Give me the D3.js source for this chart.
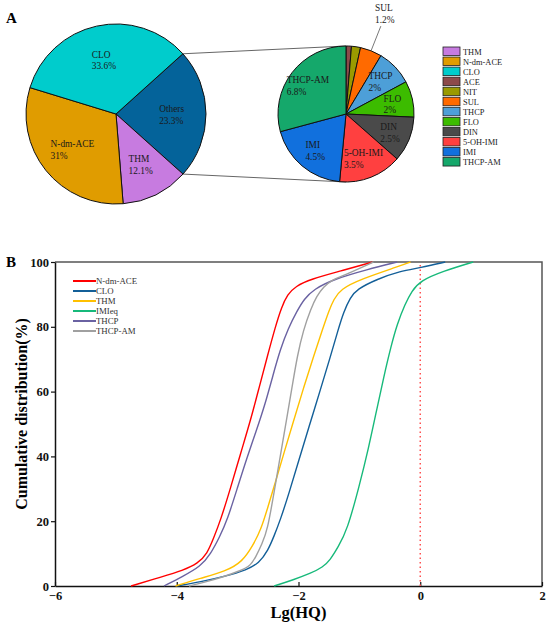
<!DOCTYPE html>
<html>
<head>
<meta charset="utf-8">
<script src="https://cdn.jsdelivr.net/npm/d3@7"></script>
<style>
  body { margin: 0; background: #fff; }
  text { font-family: "Liberation Serif", "Times New Roman", serif; }
</style>
</head>
<body>
<div id="chart"></div>
<script>
// panel A: main pie
var mainNames = ["Others", "THM", "N-dm-ACE", "CLO"];
var mainValues = [23.3, 12.1, 31, 33.6];
var mainColors = ["#04639a", "#c77be0", "#e09c00", "#00cccc"];

// panel A: breakdown of "Others"
var subNames = ["ACE", "NIT", "SUL", "THCP", "FLO", "DIN", "5-OH-IMI", "IMI", "THCP-AM"];
var subValues = [0.3, 0.5, 1.2, 2, 2, 2.5, 3.5, 4.5, 6.8];
var subColors = ["#8c4a4a", "#9a9a00", "#ff6a00", "#4d9fd8", "#3cbc00", "#4a4a4a", "#ff4040", "#1170dd", "#15a86b"];

var legendNames = ["THM", "N-dm-ACE", "CLO", "ACE", "NIT", "SUL", "THCP", "FLO", "DIN", "5-OH-IMI", "IMI", "THCP-AM"];

// panel B: cumulative distributions of Lg(HQ)
var cdfNames = ["N-dm-ACE", "CLO", "THM", "IMIeq", "THCP", "THCP-AM"];
var cdfColors = ["#ff0000", "#135f98", "#ffc000", "#17b97a", "#6a62a2", "#a0a0a0"];
var ndmAce = [[-4.75,0],[-4.25,2.8],[-3.9,4.8],[-3.65,7],[-3.5,10],[-3.4,14.5],[-3.28,20.3],[-3.12,30],[-2.95,41],[-2.79,51],[-2.65,61],[-2.51,71],[-2.38,80],[-2.28,86],[-2.18,90],[-2.05,92.5],[-1.8,94.7],[-1.31,97.2],[-0.78,100]];
var clo = [[-4.0,0],[-3.61,1.3],[-3.2,3],[-2.85,5],[-2.65,7],[-2.5,11],[-2.4,15.5],[-2.3,20.3],[-2.15,29],[-2.0,38.5],[-1.83,49],[-1.65,60],[-1.48,70.5],[-1.35,79],[-1.26,84.5],[-1.15,89],[-1.04,91.6],[-0.71,94.7],[-0.33,97.2],[0,98.2],[0.41,100]];
var thm = [[-4.02,0],[-3.61,2.4],[-3.2,4.5],[-2.92,7.5],[-2.75,12.5],[-2.62,17.2],[-2.5,24.5],[-2.38,32],[-2.24,41],[-2.08,51],[-1.92,61],[-1.75,71],[-1.6,79.5],[-1.5,85],[-1.42,88.5],[-1.31,91.6],[-0.98,94.7],[-0.33,98.8],[-0.16,100]];
var imiEq = [[-2.4,0],[-2.1,1.8],[-1.8,3.9],[-1.6,5.8],[-1.48,8],[-1.35,12],[-1.2,17.2],[-1.0,31],[-0.85,42.5],[-0.72,54],[-0.6,64.5],[-0.48,74],[-0.38,80.8],[-0.25,87],[-0.14,91],[0,94.2],[0.38,97.2],[0.87,100]];
var thcp = [[-4.21,0],[-3.9,3],[-3.61,6],[-3.44,10],[-3.3,15],[-3.17,20.3],[-3.0,30.5],[-2.84,40],[-2.7,47.5],[-2.55,56],[-2.42,65],[-2.3,73],[-2.17,79.5],[-2.02,85],[-1.91,88.5],[-1.75,91.6],[-1.42,94.7],[-0.87,97.7],[-0.38,100]];
var thcpAm = [[-3.8,0],[-3.61,0.8],[-3.2,3],[-2.95,4.8],[-2.8,6],[-2.7,9],[-2.6,13],[-2.51,17.2],[-2.4,29],[-2.3,40],[-2.2,51],[-2.1,62],[-2.02,71],[-1.92,79],[-1.8,85.4],[-1.7,89.5],[-1.59,92.3],[-1.45,94.5],[-1.26,95.8],[-0.77,100]];
var cdfSeries = [ndmAce, clo, thm, imiEq, thcp, thcpAm];

var xTicks = [-6, -4, -2, 0, 2];
var yTicks = [0, 20, 40, 60, 80, 100];

function init() {
    var svg = d3.select("#chart")
        .append("svg")
        .attr("width", 550)
        .attr("height", 624);

    var deg = Math.PI / 180;

    // ---------- A ----------
    svg.append("text").attr("x", 6).attr("y", 23)
        .style("font-size", "15px").style("font-weight", "bold").text("A");

    var c1 = { x: 116, y: 114 }, r1 = 90;
    var c2 = { x: 346, y: 114 }, r2 = 68;

    var pie1 = d3.pie().sort(null)
        .startAngle(48 * deg).endAngle(408 * deg);
    var arcs1 = pie1(mainValues);
    var arc1 = d3.arc().innerRadius(0).outerRadius(r1);
    var lab1 = d3.arc().innerRadius(r1 * 0.62).outerRadius(r1 * 0.62);

    // connectors from "Others" slice to the second pie
    var oth = arcs1[0];
    var linkG = svg.append("g");
    [[oth.startAngle, -1], [oth.endAngle, 1]].forEach(function (p) {
        linkG.append("line")
            .attr("x1", c1.x + r1 * Math.sin(p[0]))
            .attr("y1", c1.y - r1 * Math.cos(p[0]))
            .attr("x2", c2.x)
            .attr("y2", c2.y + p[1] * r2)
            .style("stroke", "#666")
            .style("stroke-width", 1);
    });

    var g1 = svg.append("g").attr("transform", "translate(" + c1.x + "," + c1.y + ")");
    g1.selectAll("path").data(arcs1).enter().append("path")
        .attr("d", arc1)
        .style("fill", function (d, i) { return mainColors[i]; })
        .style("stroke", "#111").style("stroke-width", 1);

    function blockLabel(g, pos, lines, size) {
        var t = g.append("text")
            .attr("transform", "translate(" + pos[0] + "," + pos[1] + ")")
            .style("font-size", size + "px").style("fill", "#1a1a1a");
        lines.forEach(function (s, k) {
            t.append("tspan").attr("x", 0).attr("dy", k === 0 ? "-0.2em" : "1.25em").text(s);
        });
        var w = t.node().getBBox().width;
        t.selectAll("tspan").attr("x", -w / 2);
    }

    arcs1.forEach(function (d, i) {
        blockLabel(g1, lab1.centroid(d), [mainNames[i], mainValues[i] + "%"], 9.4);
    });

    var pie2 = d3.pie().sort(null);
    var arcs2 = pie2(subValues);
    var arc2 = d3.arc().innerRadius(0).outerRadius(r2);
    var lab2 = d3.arc().innerRadius(r2 * 0.7).outerRadius(r2 * 0.7);

    var g2 = svg.append("g").attr("transform", "translate(" + c2.x + "," + c2.y + ")");
    g2.selectAll("path").data(arcs2).enter().append("path")
        .attr("d", arc2)
        .style("fill", function (d, i) { return subColors[i]; })
        .style("stroke", "#111").style("stroke-width", 1);

    arcs2.forEach(function (d, i) {
        var v = subValues[i];
        if (v >= 2) {
            blockLabel(g2, lab2.centroid(d), [subNames[i], v + "%"], 9.4);
        } else if (v >= 1) {
            var a = (d.startAngle + d.endAngle) / 2;
            g2.append("line")
                .attr("x1", r2 * Math.sin(a)).attr("y1", -r2 * Math.cos(a))
                .attr("x2", r2 * 1.39 * Math.sin(a)).attr("y2", -r2 * 1.39 * Math.cos(a))
                .style("stroke", "#555").style("stroke-width", 0.8);
            blockLabel(g2, [r2 * 1.55 * Math.sin(a), -r2 * 1.6 * Math.cos(a)], [subNames[i], v + "%"], 9.4);
        }
    });

    // legend
    var allColors = {};
    mainNames.forEach(function (n, i) { allColors[n] = mainColors[i]; });
    subNames.forEach(function (n, i) { allColors[n] = subColors[i]; });
    var leg = svg.append("g").attr("transform", "translate(443,47)");
    legendNames.forEach(function (n, i) {
        leg.append("rect").attr("x", 0).attr("y", i * 10.05)
            .attr("width", 17).attr("height", 8.5)
            .style("fill", allColors[n]).style("stroke", "#222").style("stroke-width", 0.8);
        leg.append("text").attr("x", 20).attr("y", i * 10.05 + 7.6)
            .style("font-size", "8.4px").style("fill", "#222").text(n);
    });

    // ---------- B ----------
    var margin = { top: 262, left: 55 },
        width = 487,
        height = 324;

    svg.append("text").attr("x", 6).attr("y", 267)
        .style("font-size", "15px").style("font-weight", "bold").text("B");

    var SVG = svg.append("g")
        .attr("transform", "translate(" + margin.left + "," + margin.top + ")");

    var x = d3.scaleLinear().domain([-6, 2]).range([0, width]);
    var y = d3.scaleLinear().domain([0, 100]).range([height, 0]);

    // frame top/right
    SVG.append("path")
        .attr("d", "M0,0H" + width + "V" + height)
        .style("fill", "none").style("stroke", "#555").style("stroke-width", 1.5);

    var xAxis = SVG.append("g")
        .attr("transform", "translate(0," + height + ")")
        .call(d3.axisBottom(x).tickValues(xTicks).tickSizeInner(-4).tickSizeOuter(0).tickPadding(5)
            .tickFormat(function (d) { return d < 0 ? "\u2212" + (-d) : d; }));
    var yAxis = SVG.append("g")
        .call(d3.axisLeft(y).tickValues(yTicks).tickSizeInner(4).tickSizeOuter(0).tickPadding(2));

    [xAxis, yAxis].forEach(function (ax) {
        ax.select(".domain").style("stroke", "#111").style("stroke-width", 1.5);
        ax.selectAll(".tick line").style("stroke", "#111").style("stroke-width", 1.2);
        ax.selectAll(".tick text")
            .style("font-family", "'Liberation Serif', 'Times New Roman', serif")
            .style("font-size", "12.5px").style("font-weight", "bold").style("fill", "#111");
    });

    // HQ = 1 reference line
    SVG.append("line")
        .attr("x1", x(0)).attr("x2", x(0))
        .attr("y1", y(0)).attr("y2", y(100))
        .style("stroke", "#ff5050").style("stroke-width", 1.5)
        .style("stroke-dasharray", "1.5,3");

    var line = d3.line()
        .x(function (d) { return x(d[0]); })
        .y(function (d) { return y(d[1]); })
        .curve(d3.curveBasis);

    SVG.selectAll(".cdf").data(cdfSeries).enter().append("path")
        .attr("class", "cdf")
        .attr("d", line)
        .style("fill", "none")
        .style("stroke", function (d, i) { return cdfColors[i]; })
        .style("stroke-width", 1.4);

    var lg = SVG.append("g").attr("transform", "translate(18,19)");
    cdfNames.forEach(function (n, i) {
        lg.append("line").attr("x1", 0).attr("x2", 23)
            .attr("y1", i * 10).attr("y2", i * 10)
            .style("stroke", cdfColors[i]).style("stroke-width", 2);
        lg.append("text").attr("x", 23).attr("y", i * 10 + 3)
            .style("font-size", "8.8px").style("fill", "#333").text(n);
    });

    svg.append("text")
        .attr("transform", "translate(27,414) rotate(-90)")
        .attr("text-anchor", "middle")
        .style("font-size", "16px").style("font-weight", "bold")
        .text("Cumulative distribution(%)");

    svg.append("text")
        .attr("x", margin.left + width / 2).attr("y", 618)
        .attr("text-anchor", "middle")
        .style("font-size", "16.5px").style("font-weight", "bold")
        .text("Lg(HQ)");
}

window.onload = init;
</script>
</body>
</html>
